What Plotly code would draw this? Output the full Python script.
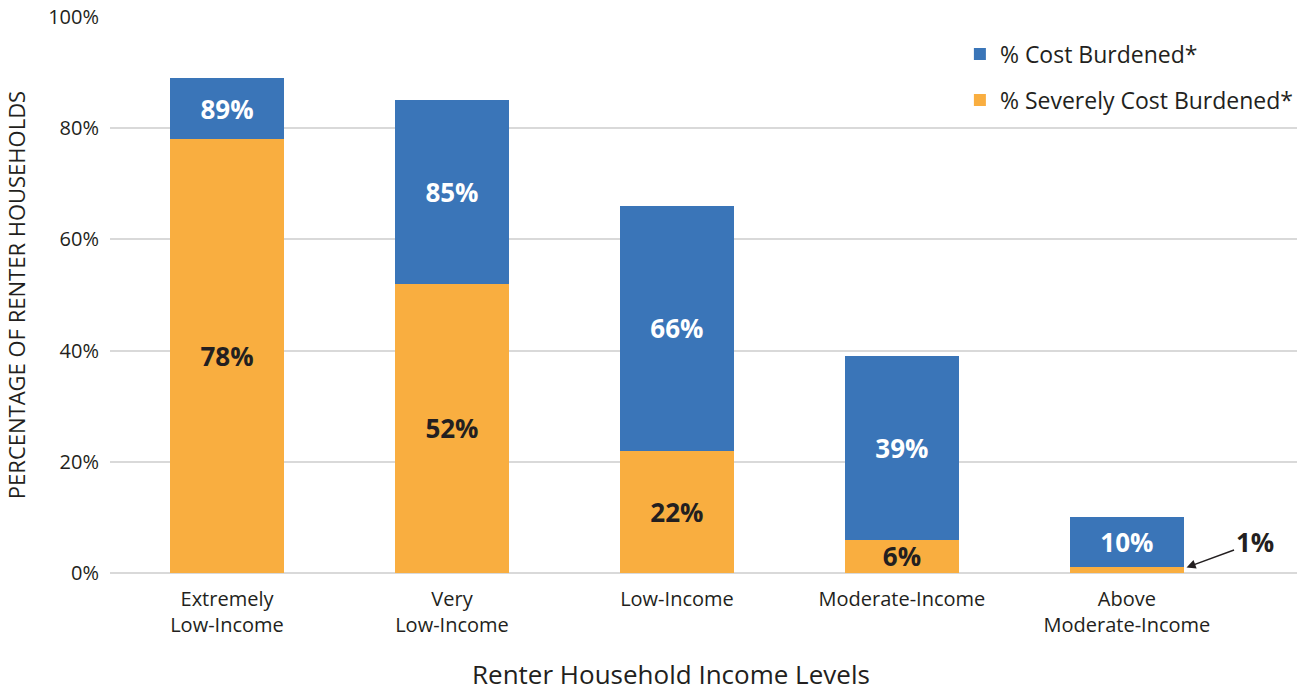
import plotly.graph_objects as go

categories = ["Extremely<br>Low-Income", "Very<br>Low-Income", "Low-Income",
              "Moderate-Income", "Above<br>Moderate-Income"]
cost_burdened = [89, 85, 66, 39, 10]
severely_burdened = [78, 52, 22, 6, 1]
y_ticks = [0, 20, 40, 60, 80, 100]
y_tick_labels = ["0%", "20%", "40%", "60%", "80%", "100%"]

BLUE = "#3A75B8"
ORANGE = "#F9AE40"
FONT = "Open Sans"
DARK = "#231F20"

blue_segment = [c - s for c, s in zip(cost_burdened, severely_burdened)]
orange_text = [f"{v}%" if v >= 5 else "" for v in severely_burdened]

fig = go.Figure()
fig.add_trace(go.Bar(
    x=categories, y=severely_burdened, name="% Severely Cost Burdened*",
    marker=dict(color=ORANGE, line=dict(width=0)),
    text=orange_text, textposition="inside", insidetextanchor="middle",
    textfont=dict(family=FONT, size=26, color=DARK, weight="bold"),
    legendgroup="b", legendrank=2, width=0.507,
))
fig.add_trace(go.Bar(
    x=categories, y=blue_segment, name="% Cost Burdened*",
    marker=dict(color=BLUE, line=dict(width=0)),
    text=[f"{v}%" for v in cost_burdened], textposition="inside", insidetextanchor="middle",
    textfont=dict(family=FONT, size=26, color="white", weight="bold"),
    legendgroup="a", legendrank=1, width=0.507,
))

# small value label with arrow
fig.add_annotation(
    x=4.265, y=severely_burdened[4], xref="x", yref="y",
    text=f"<b>{severely_burdened[4]}%</b>", showarrow=True,
    arrowhead=2, arrowsize=1.3, arrowwidth=1.4, arrowcolor=DARK,
    ax=68, ay=-25, font=dict(family=FONT, size=26, color=DARK),
)

fig.add_annotation(
    x=0.473, y=-0.181, xref="paper", yref="paper", xanchor="center", yanchor="middle",
    text="Renter Household Income Levels", showarrow=False,
    font=dict(family=FONT, size=26, color=DARK),
)

fig.update_layout(
    width=1312, height=692,
    barmode="stack",
    uniformtext=dict(minsize=26, mode="show"),
    plot_bgcolor="white", paper_bgcolor="white",
    margin=dict(l=110, r=15, t=17, b=119),
    font=dict(family=FONT, color=DARK),
    legend=dict(
        x=0.716, y=0.972, xanchor="left", yanchor="top",
        traceorder="grouped", tracegroupgap=13,
        font=dict(family=FONT, size=23, color=DARK),
        bgcolor="rgba(0,0,0,0)",
    ),
    showlegend=True,
)
fig.update_xaxes(
    range=[-0.52, 4.756], showgrid=False, showline=False, ticks="",
    automargin=False, ticklabelstandoff=12,
    tickfont=dict(family=FONT, size=20, color=DARK),
)
fig.update_yaxes(
    range=[0, 100], tickvals=y_ticks, ticktext=y_tick_labels,
    showgrid=True, gridcolor="#D9D9D9", gridwidth=2,
    zeroline=True, zerolinecolor="#D9D9D9", zerolinewidth=2,
    showline=False, ticks="", ticklabelstandoff=10, automargin=False,
    tickfont=dict(family=FONT, size=20, color=DARK),
    title=dict(text="PERCENTAGE OF RENTER HOUSEHOLDS",
               font=dict(family=FONT, size=22, color=DARK), standoff=16),
)

fig.write_html("out.html", config={"displayModeBar": False},
               post_script="document.body.style.margin='0';")
